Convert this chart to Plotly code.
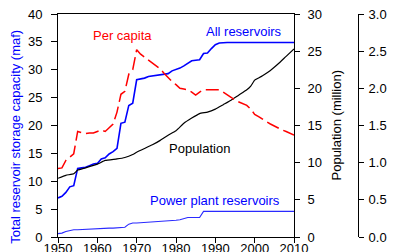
import plotly.graph_objects as go

years = list(range(1950, 2011))

all_reservoirs = [7.0, 7.3, 8.0, 9.0, 9.2, 12.3, 12.4, 12.5, 12.8, 13.1,
                  13.2, 14.0, 14.2, 14.9, 15.3, 15.9, 20.4, 20.6, 23.6, 24.0,
                  28.2, 28.3, 28.5, 28.8, 28.9, 29.0, 29.1, 29.2, 29.3, 29.8,
                  30.0, 30.3, 30.7, 31.2, 31.6, 31.7, 31.8, 32.9, 33.0, 33.8,
                  34.5, 34.8, 34.9, 34.9, 34.9, 34.9, 34.9, 34.9, 34.9, 34.9,
                  34.9, 34.9, 34.9, 34.9, 34.9, 34.9, 34.9, 34.9, 34.9, 34.9,
                  34.9]

power_plant = [0.6, 0.7, 1.0, 1.2, 1.3, 1.3, 1.35, 1.4, 1.4, 1.45,
               1.5, 1.5, 1.55, 1.6, 1.6, 1.65, 1.7, 1.75, 2.3, 2.5,
               2.5, 2.55, 2.6, 2.6, 2.65, 2.7, 2.7, 2.75, 2.8, 2.9,
               3.0, 3.1, 3.3, 3.5, 3.5, 3.5, 3.5, 4.6, 4.6, 4.6,
               4.6, 4.6, 4.6, 4.6, 4.6, 4.6, 4.6, 4.6, 4.6, 4.6,
               4.6, 4.6, 4.6, 4.6, 4.6, 4.6, 4.6, 4.6, 4.6, 4.6,
               4.6]

pop_years = [1950, 1952, 1954, 1955, 1957, 1960, 1962, 1965, 1967, 1969,
             1970, 1972, 1974, 1976, 1978, 1980, 1982, 1984, 1986, 1988,
             1990, 1992, 1994, 1996, 1998, 1999, 2000, 2001, 2002, 2004,
             2006, 2008, 2010]
population = [7.9, 8.3, 8.5, 9.0, 9.3, 9.8, 10.3, 10.5, 10.7, 11.1,
              11.4, 11.9, 12.4, 13.0, 13.7, 14.3, 15.3, 16.0, 16.6, 16.8,
              17.2, 17.8, 18.4, 19.1, 19.8, 20.3, 21.1, 21.4, 21.7, 22.4,
              23.3, 24.3, 25.3]

per_capita = [0.92, 0.93, 1.03, 1.08, 1.12, 1.42, 1.40, 1.39, 1.40, 1.40,
              1.42, 1.44, 1.42, 1.47, 1.52, 1.68, 1.92, 1.96, 2.19, 2.25,
              2.52, 2.46, 2.42, 2.38, 2.35, 2.31, 2.26, 2.20, 2.14, 2.09,
              2.05, 2.00, 1.99, 1.98, 1.95, 1.91, 1.95, 1.98, 1.98, 1.98,
              1.97, 1.98, 1.95, 1.92, 1.88, 1.84, 1.82, 1.80, 1.77, 1.72,
              1.65, 1.62, 1.58, 1.55, 1.52, 1.49, 1.47, 1.44, 1.42, 1.39,
              1.37]

FONT = "Liberation Sans, Arial, sans-serif"
W, H = 404, 252
L, R, T, B = 50, 4, 6, 23
PW = W - L - R
PLOT_RIGHT = 286
AX3 = 350

fig = go.Figure()
fig.add_trace(go.Scatter(x=years, y=power_plant, mode="lines",
                         line=dict(color="#2a2aff", width=1.1), yaxis="y"))
fig.add_trace(go.Scatter(x=years, y=all_reservoirs, mode="lines",
                         line=dict(color="#0000ff", width=1.6), yaxis="y"))
fig.add_trace(go.Scatter(x=pop_years, y=population, mode="lines",
                         line=dict(color="#000000", width=1.2, shape="spline", smoothing=0.3),
                         yaxis="y2"))
fig.add_trace(go.Scatter(x=years, y=per_capita, mode="lines",
                         line=dict(color="#ff0000", width=1.5, dash="13px,5px"),
                         yaxis="y3"))

tickfont = dict(family=FONT, size=13, color="#000000")

fig.update_layout(
    width=W, height=H,
    margin=dict(l=L, r=R, t=T, b=B, autoexpand=False),
    paper_bgcolor="white", plot_bgcolor="white",
    showlegend=False,
    xaxis=dict(domain=[0, (PLOT_RIGHT - L) / PW], range=[1950, 2010],
               tickvals=[1950, 1960, 1970, 1980, 1990, 2000, 2010],
               ticks="outside", ticklen=5, tickcolor="#000", showline=True,
               linecolor="#000", linewidth=1, mirror=True, showgrid=False,
               zeroline=False, tickfont=tickfont, ticklabelstandoff=-6,
               ticklabeloverflow="allow"),
    yaxis=dict(range=[0, 40], tickvals=[0, 5, 10, 15, 20, 25, 30, 35, 40],
               ticks="outside", ticklen=6, tickcolor="#000", showline=True,
               linecolor="#000", linewidth=1, mirror=True, showgrid=False,
               zeroline=False, tickfont=tickfont, ticklabelstandoff=6,
               ticklabeloverflow="allow"),
    yaxis2=dict(range=[0, 30], tickvals=[0, 5, 10, 15, 20, 25, 30],
                overlaying="y", side="right", anchor="x",
                ticks="outside", ticklen=5, tickcolor="#000", showline=True,
                linecolor="#000", linewidth=1, showgrid=False, zeroline=False,
                tickfont=tickfont, ticklabelstandoff=5,
                ticklabeloverflow="allow"),
    yaxis3=dict(range=[0, 3], tickvals=[0, 0.5, 1.0, 1.5, 2.0, 2.5, 3.0],
                tickformat=".1f",
                overlaying="y", side="right", anchor="free",
                position=(AX3 - L) / PW,
                ticks="outside", ticklen=5, tickcolor="#000", showline=True,
                linecolor="#000", linewidth=1, showgrid=False, zeroline=False,
                tickfont=tickfont, ticklabelstandoff=2,
                ticklabeloverflow="allow"),
)

def px_x(p):
    return (p - L) / PW

annots = [
    dict(text="Per capita", x=1966.5, y=36.1, xref="x", yref="y",
         font=dict(family=FONT, size=13, color="#ff0000")),
    dict(text="All reservoirs", x=1997.4, y=36.8, xref="x", yref="y",
         font=dict(family=FONT, size=13, color="#0000ff")),
    dict(text="Population", x=1986.0, y=15.8, xref="x", yref="y",
         font=dict(family=FONT, size=13, color="#000000")),
    dict(text="Power plant reservoirs", x=1989.9, y=6.5, xref="x", yref="y",
         font=dict(family=FONT, size=13, color="#0000ff")),
    dict(text="Total reservoir storage capacity (maf)", textangle=-90,
         x=px_x(8), y=0.45, xref="paper", yref="paper",
         font=dict(family=FONT, size=13, color="#0000ff")),
    dict(text="Population (million)", textangle=-90,
         x=px_x(328), y=0.5, xref="paper", yref="paper",
         font=dict(family=FONT, size=13, color="#000000")),
    dict(text="Per capita (af/person)", textangle=-90,
         x=px_x(397), y=0.5, xref="paper", yref="paper",
         font=dict(family=FONT, size=13, color="#ff0000")),
]
for a in annots:
    a.update(showarrow=False, xanchor="center", yanchor="middle")
fig.update_layout(annotations=annots)

fig.write_html("out.html")
